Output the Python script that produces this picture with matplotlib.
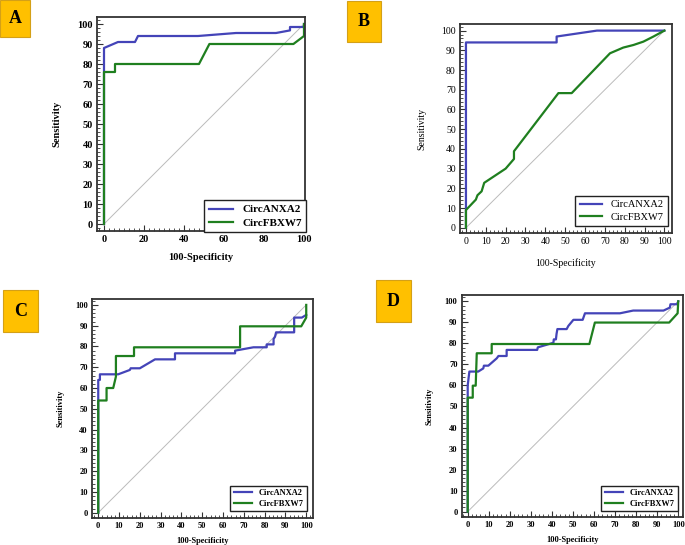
import numpy as np
import matplotlib
matplotlib.use("Agg")
import matplotlib.pyplot as plt
from matplotlib.ticker import MultipleLocator
from matplotlib.patches import Rectangle

plt.rcParams['font.family'] = ['Liberation Serif', 'DejaVu Serif']

# ROC curve points (100-Specificity, Sensitivity)
a_anxa2_x = [0, 0, 7, 15.5, 17, 47, 66, 86, 93, 93, 100, 100]
a_anxa2_y = [0, 88, 91, 91, 94, 94, 95.5, 95.5, 96.8, 98.5, 98.5, 100]
a_fbxw7_x = [0, 0, 5.5, 5.5, 47.5, 52.7, 94.7, 100, 100]
a_fbxw7_y = [0, 76, 76, 80, 80, 90, 90, 94, 100]

b_anxa2_x = [0, 0, 45.7, 45.7, 66, 100]
b_anxa2_y = [0, 94, 94, 97, 100, 100]
b_fbxw7_x = [0, 0, 5, 5.8, 7.9, 9.2, 10.4, 20, 24.2, 24.2, 46.6, 53.3, 72.6, 79.3, 84.4, 89.4, 94.5, 100]
b_fbxw7_y = [0, 9, 14.3, 16.5, 18.5, 22.8, 23.6, 30, 34.9, 38.8, 68.3, 68.3, 88.5, 91.4, 92.7, 94.4, 97, 100]

c_anxa2_x = [0, 0, 0.8, 0.8, 9.6, 15.2, 15.6, 20, 27.3, 36.9, 36.9, 65.8, 65.8, 74.6, 81, 81,
             84.3, 84.3, 85, 85.5, 94.2, 94.2, 97.9, 100]
c_anxa2_y = [0, 63.9, 63.9, 66.6, 66.6, 68.7, 69.5, 69.5, 73.8, 73.8, 76.7, 76.7, 78, 79.6, 79.6, 81,
             81, 83.6, 84.7, 86.8, 86.8, 93.9, 93.9, 95.2]
c_fbxw7_x = [0, 0, 4, 4, 7.2, 8.5, 8.5, 17.2, 17.2, 68.2, 68.2, 97.6, 100, 100]
c_fbxw7_y = [0, 54, 54, 60, 60, 65.5, 75.4, 75.4, 79.6, 79.6, 89.7, 89.7, 93.9, 100]

d_anxa2_x = [0, 0, 0.5, 0.8, 5, 7.4, 7.7, 9.8, 13.8, 14.6, 18.5, 18.5, 33, 33.3, 40.7, 40.9, 41.9,
             42.2, 42.6, 47, 47.8, 50.2, 54.6, 55.7, 72.3, 78.6, 93, 96, 96.3, 99.5, 100]
d_anxa2_y = [0, 60, 64.2, 66.6, 66.6, 68.1, 69.4, 69.4, 72.9, 74, 74, 76.9, 76.9, 78.1, 80.3, 81.9, 81.9,
             84.5, 86.8, 86.8, 88.3, 91.2, 91.2, 94.3, 94.3, 95.6, 95.6, 97, 98.6, 98.6, 100]
d_fbxw7_x = [0, 0, 2.4, 2.4, 3.8, 4.3, 11.4, 11.4, 57.8, 60.4, 95.7, 99.7, 100]
d_fbxw7_y = [0, 54.2, 54.2, 59.9, 59.9, 75.3, 75.3, 79.7, 79.7, 89.9, 89.9, 94.3, 100]

series_names = ['CircANXA2', 'CircFBXW7']
panel_letters = ['A', 'B', 'C', 'D']

W, H = 685, 545
blue = '#4444b8'
green = '#1f7f1f'

fig = plt.figure(figsize=(W / 100, H / 100), dpi=100)


def px_axes(l, t, r, b):
    return fig.add_axes([l / W, 1 - b / H, (r - l) / W, (b - t) / H])


def to_ax(ax, px, py):
    # pixel position of figure -> axes fraction
    pos = ax.get_position()
    return ((px / W - pos.x0) / pos.width, ((1 - py / H) - pos.y0) / pos.height)


def roc_panel(ax, xa, ya, xf, yf, xlim, ylim, xmaj, xmin, fs, weight, leg_box, xlab_y, ylab_x, leg_fs):
    ax.plot([0, 100], [0, 100], color='#bbbbbb', lw=0.7)
    ax.plot(xa, ya, color=blue, lw=1.6, label=series_names[0])
    ax.plot(xf, yf, color=green, lw=1.6, label=series_names[1])
    ax.set_xlim(*xlim)
    ax.set_ylim(*ylim)
    ax.xaxis.set_major_locator(MultipleLocator(xmaj))
    ax.xaxis.set_minor_locator(MultipleLocator(xmin))
    ax.yaxis.set_major_locator(MultipleLocator(10))
    ax.yaxis.set_minor_locator(MultipleLocator(2))
    ax.tick_params(which='major', direction='in', length=4, width=0.8, color='#333333', pad=3,
                   labelsize=fs, top=False, right=False)
    ax.tick_params(which='minor', direction='in', length=2.2, width=0.6, color='#333333',
                   top=False, right=False)
    for lab in ax.get_xticklabels() + ax.get_yticklabels():
        lab.set_fontweight(weight)
    for s in ax.spines.values():
        s.set_color('#333333')
        s.set_linewidth(1.3)
    ax.set_xlabel('100-Specificity', fontsize=fs, fontweight=weight)
    ax.set_ylabel('Sensitivity', fontsize=fs, fontweight=weight)
    pos = ax.get_position()
    cx = (pos.x0 + pos.width / 2) * W
    ax.xaxis.set_label_coords(*to_ax(ax, cx, xlab_y))
    cy = (1 - (pos.y0 + pos.height / 2)) * H
    ax.yaxis.set_label_coords(*to_ax(ax, ylab_x, cy))
    l, t, r, b = leg_box
    x1, y1 = to_ax(ax, r, b)
    leg = ax.legend(loc='lower right', bbox_to_anchor=(x1, y1), borderaxespad=0, fancybox=False,
                    edgecolor='#222222', framealpha=1, prop={'size': leg_fs, 'weight': weight},
                    handlelength=2.2, borderpad=0.4, labelspacing=0.3)
    leg.get_frame().set_linewidth(1.0)


axA = px_axes(97, 17, 305, 231)
roc_panel(axA, a_anxa2_x, a_anxa2_y, a_fbxw7_x, a_fbxw7_y, (-3.5, 100.5), (-3.5, 103.5),
          20, 2.5, 7.5, 'bold', (204, 192, 306, 232), 253, 61, 8)

axB = px_axes(460, 24.3, 671.7, 233.3)
roc_panel(axB, b_anxa2_x, b_anxa2_y, b_fbxw7_x, b_fbxw7_y, (-3, 103.7), (-2.8, 103.2),
          10, 2, 7, 'normal', (577, 196, 668, 226), 258, 426, 7.5)

axC = px_axes(92, 299.3, 313.3, 518.3)
roc_panel(axC, c_anxa2_x, c_anxa2_y, c_fbxw7_x, c_fbxw7_y, (-3, 103.4), (-2.7, 102.7),
          10, 2, 6, 'bold', (232, 488, 307, 511), 537, 65, 6)

axD = px_axes(461.7, 295, 683.3, 516.7)
roc_panel(axD, d_anxa2_x, d_anxa2_y, d_fbxw7_x, d_fbxw7_y, (-2.85, 102.4), (-2.4, 103),
          10, 2, 6, 'bold', (602, 487, 678, 511), 536, 434, 6)

# panel letter boxes
letter_boxes = [(0, 0, 30, 37), (347, 1, 381, 42), (3, 290, 38, 332), (376, 280, 411, 322)]
for letter, (l, t, r, b) in zip(panel_letters, letter_boxes):
    fig.patches.append(Rectangle((l / W, 1 - b / H), (r - l) / W, (b - t) / H,
                                 transform=fig.transFigure, facecolor='#ffc000',
                                 edgecolor='#d4a017', lw=0.8))
    fig.text((l + r) / 2 / W, 1 - (t + b) / 2 / H, letter, ha='center', va='center',
             fontsize=13, fontweight='bold', color='black')

fig.savefig('out.png', dpi=100)
